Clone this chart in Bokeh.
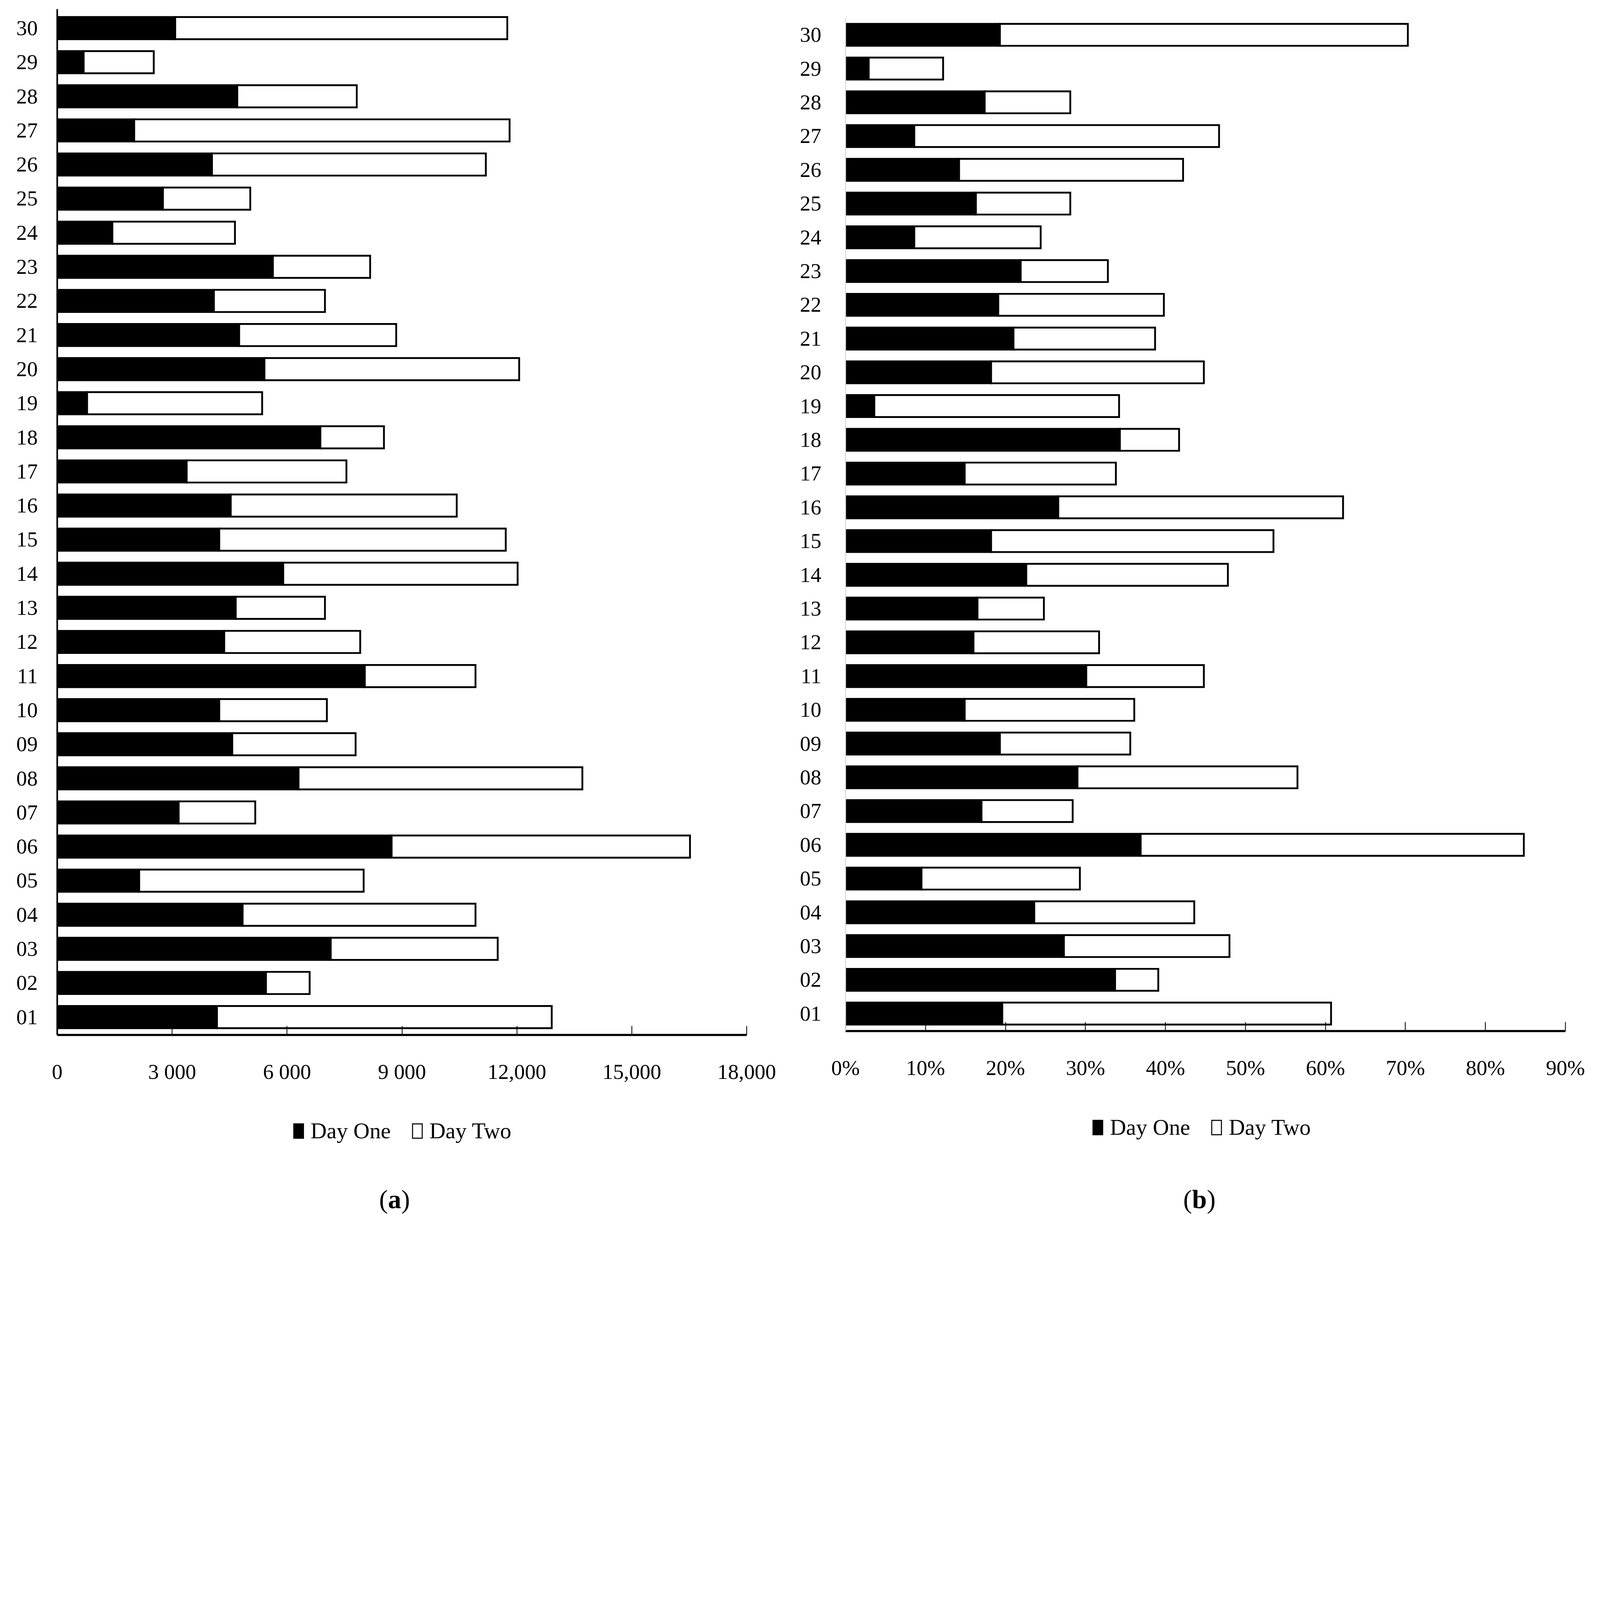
import numpy as np
from bokeh.plotting import figure
from bokeh.models import (Range1d, FixedTicker, Legend, LegendItem,
                          ColumnDataSource)
from bokeh.core.properties import value
from bokeh.layouts import row, column
from bokeh.embed import file_html
from bokeh.resources import INLINE

# ---------------- data ----------------
categories = ["01", "02", "03", "04", "05", "06", "07", "08", "09", "10",
              "11", "12", "13", "14", "15", "16", "17", "18", "19", "20",
              "21", "22", "23", "24", "25", "26", "27", "28", "29", "30"]

# panel (a): counts
day_one_count = [4170, 5450, 7140, 4840, 2140, 8730, 3170, 6300, 4570, 4230,
                 8030, 4360, 4660, 5900, 4230, 4530, 3380, 6870, 780, 5410,
                 4750, 4090, 5630, 1440, 2760, 4040, 2010, 4700, 690, 3080]
day_two_count = [8740, 1140, 4360, 6080, 5860, 7790, 2000, 7410, 3220, 2810,
                 2890, 3550, 2330, 6120, 7480, 5900, 4170, 1660, 4570, 6650,
                 4100, 2900, 2540, 3200, 2280, 7150, 9800, 3120, 1830, 8670]

# panel (b): percentages
day_one_pct = [19.6, 33.7, 27.3, 23.6, 9.5, 36.9, 17.0, 29.0, 19.3, 14.9,
               30.1, 16.0, 16.5, 22.6, 18.2, 26.6, 14.9, 34.3, 3.6, 18.2,
               21.0, 19.1, 21.9, 8.6, 16.3, 14.2, 8.6, 17.4, 2.9, 19.3]
day_two_pct = [41.1, 5.4, 20.7, 20.0, 19.8, 47.9, 11.4, 27.5, 16.3, 21.2,
               14.7, 15.7, 8.3, 25.2, 35.3, 35.6, 18.9, 7.4, 30.6, 26.6,
               17.7, 20.7, 10.9, 15.8, 11.8, 28.0, 38.1, 10.7, 9.3, 51.0]

count_ticks = [0, 3000, 6000, 9000, 12000, 15000, 18000]
count_tick_labels = ["0", "3 000", "6 000", "9 000", "12,000", "15,000", "18,000"]
pct_ticks = [0, 10, 20, 30, 40, 50, 60, 70, 80, 90]
pct_tick_labels = ["0%", "10%", "20%", "30%", "40%", "50%", "60%", "70%", "80%", "90%"]

legend_labels = ["Day One", "Day Two"]
panel_captions = ["a", "b"]

FONT = "Liberation Serif"
D = 7865 / 4096.0   # device pixels per CSS pixel


def c(v):
    return v / D


def fs(v):
    return f"{v / D:.1f}px"


MAIN_H = 2780
FOOT_H = 340


def bar_style():
    return dict(height=0.65, line_color="black", line_width=c(9),
                line_join="miter")


def make_panel(day1, day2, ticks, tick_labels, frame, borders, y_bounds,
               yaxis_color, yaxis_width, ylabel_standoff):
    y = list(range(1, len(categories) + 1))
    total = [a + b for a, b in zip(day1, day2)]
    src = ColumnDataSource(dict(y=y, zero=[0] * len(y), d1=day1, tot=total))
    bl, br, bt = borders
    bb = MAIN_H - bt - frame[1]
    p = figure(frame_width=frame[0], frame_height=frame[1],
               x_range=Range1d(ticks[0], ticks[-1]),
               y_range=Range1d(*y_bounds),
               output_backend="svg", toolbar_location=None,
               min_border_left=bl, min_border_right=br,
               min_border_top=bt, min_border_bottom=bb)
    p.outline_line_color = None
    p.xgrid.visible = False
    p.ygrid.visible = False

    p.hbar(y="y", left="zero", right="d1", source=src, fill_color="black",
           **bar_style())
    p.hbar(y="y", left="d1", right="tot", source=src, fill_color="white",
           **bar_style())

    xa = p.xaxis[0]
    xa.ticker = FixedTicker(ticks=ticks)
    xa.major_label_overrides = {t: l for t, l in zip(ticks, tick_labels)}
    xa.axis_line_color = "black"
    xa.axis_line_width = c(11)
    xa.major_tick_in = round(c(45))
    xa.major_tick_out = 0
    xa.major_tick_line_width = c(4)
    xa.major_tick_line_color = "black"
    xa.minor_tick_in = 0
    xa.minor_tick_out = 0
    xa.major_label_text_font = FONT
    xa.major_label_text_font_size = fs(105)
    xa.major_label_text_color = "black"
    xa.major_label_standoff = 63

    ya = p.yaxis[0]
    ya.ticker = FixedTicker(ticks=y)
    ya.major_label_overrides = {t: l for t, l in zip(y, categories)}
    ya.axis_line_color = yaxis_color
    ya.axis_line_width = c(yaxis_width)
    ya.major_tick_in = 0
    ya.major_tick_out = 0
    ya.minor_tick_in = 0
    ya.minor_tick_out = 0
    ya.major_label_text_font = FONT
    ya.major_label_text_font_size = fs(105)
    ya.major_label_text_color = "black"
    ya.major_label_standoff = ylabel_standoff
    return p


def make_footer(width, bl, br, legend_margin, caption, cap_x, cap_half):
    fw = width - bl - br
    f = figure(width=width, height=FOOT_H, x_range=Range1d(0, fw),
               y_range=Range1d(0, FOOT_H), output_backend="svg",
               toolbar_location=None, x_axis_type=None, y_axis_type=None,
               min_border_left=bl, min_border_right=br,
               min_border_top=0, min_border_bottom=0)
    f.grid.visible = False
    f.outline_line_color = None
    # legend-only renderers: they carry no drawable row
    proxy = ColumnDataSource(dict(y=[float("nan")], l=[float("nan")],
                                  r=[float("nan")]))
    d1 = f.hbar(y="y", left="l", right="r", source=proxy, fill_color="black",
                **bar_style())
    d2 = f.hbar(y="y", left="l", right="r", source=proxy, fill_color="white",
                **bar_style())
    d1.glyph.line_width = c(5)
    d2.glyph.line_width = c(5)
    legend = Legend(items=[LegendItem(label=legend_labels[0], renderers=[d1]),
                           LegendItem(label=legend_labels[1], renderers=[d2])],
                    orientation="horizontal", location="top_center",
                    glyph_width=round(c(60)), glyph_height=round(c(88)),
                    label_standoff=round(c(30)), spacing=round(c(100)),
                    label_text_font=FONT, label_text_font_size=fs(110),
                    label_text_color="black", border_line_color=None,
                    background_fill_alpha=0, margin=legend_margin, padding=0)
    f.add_layout(legend, "center")

    cy = FOOT_H - 290
    f.text(x=[cap_x - cap_half], y=[cy], text=["("], text_font=value(FONT),
           text_font_size=fs(130), text_align="right", text_baseline="middle",
           text_color="black")
    f.text(x=[cap_x], y=[cy], text=[caption], text_font=value(FONT),
           text_font_size=fs(130), text_font_style="bold", text_align="center",
           text_baseline="middle", text_color="black")
    f.text(x=[cap_x + cap_half], y=[cy], text=[")"], text_font=value(FONT),
           text_font_size=fs(130), text_align="left", text_baseline="middle",
           text_color="black")
    return f


p1 = make_panel(day_one_count, day_two_count, count_ticks, count_tick_labels,
                frame=(1765, 2626), borders=(146, 112, 23),
                y_bounds=(0.475, 30.555), yaxis_color="black", yaxis_width=8,
                ylabel_standoff=50)
p2 = make_panel(day_one_pct, day_two_pct, pct_ticks, pct_tick_labels,
                frame=(1843, 2592), borders=(141, 60, 47),
                y_bounds=(0.482, 30.482), yaxis_color="#d9d9d9", yaxis_width=5,
                ylabel_standoff=62)
f1 = make_footer(2023, 146, 105, 82, panel_captions[0], 867, 17)
f2 = make_footer(2034, 141, 71, 73, panel_captions[1], 906, 19)

layout = row(column(p1, f1), column(p2, f2))
open("out.html", "w").write(file_html(layout, INLINE))
